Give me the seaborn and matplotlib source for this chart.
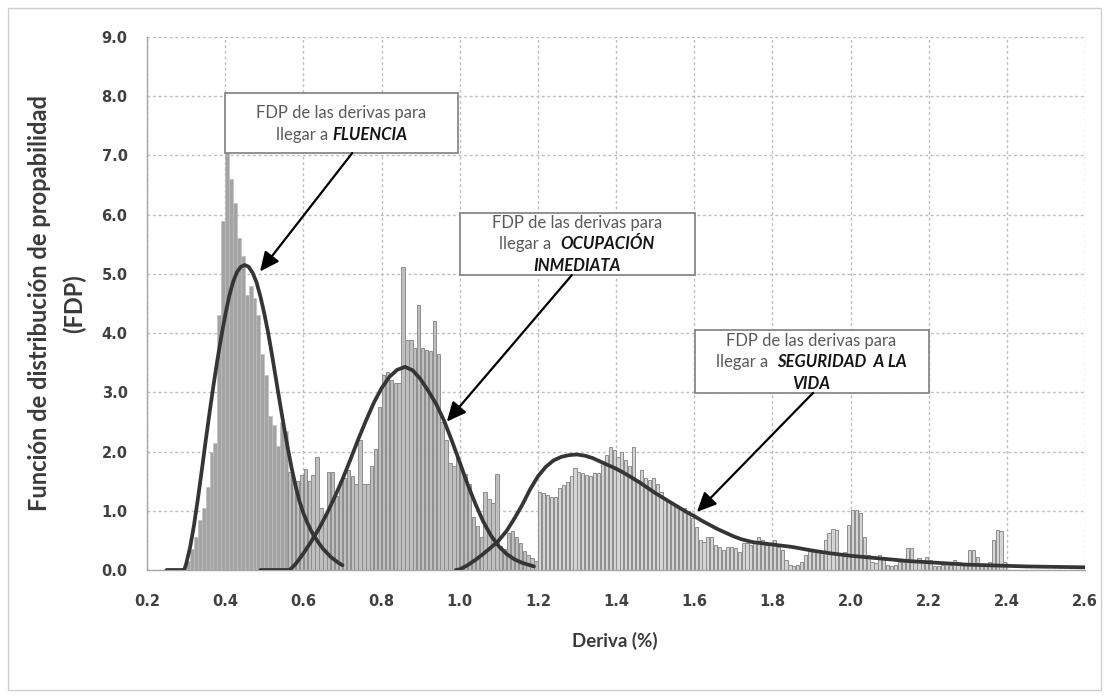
import numpy as np
import pandas as pd
import matplotlib
matplotlib.use("Agg")
import matplotlib.pyplot as plt
from matplotlib.patches import Rectangle
from matplotlib.offsetbox import TextArea, HPacker, VPacker, AnnotationBbox
import seaborn as sns

# ---------------------------------------------------------------------------
# Histogram data (FDP per 0.01 drift bin)
# ---------------------------------------------------------------------------
BIN = 0.01

fluencia_inicio = 0.30
fluencia_fdp = [
    0.15, 0.35, 0.55, 0.85, 1.05, 1.40, 2.00, 2.15, 4.30, 5.90,
    7.05, 6.60, 6.20, 5.60, 5.30, 4.65, 4.80, 4.60, 4.30, 3.65,
    3.30, 2.60, 2.45, 2.10, 2.50, 2.35,
]

ocupacion_inicio = 0.56
ocupacion_fdp = [
    1.65, 1.55, 1.50, 1.60,
    1.70, 1.50, 1.60, 1.90, 1.05, 0.95, 1.65, 1.65, 1.25, 1.50,
    1.55, 1.68, 1.58, 1.45, 2.20, 1.45, 1.45, 1.75, 2.05, 2.75,
    3.30, 3.35, 3.20, 3.15, 3.15, 5.12, 3.88, 3.88, 3.75, 4.48,
    3.75, 3.72, 3.70, 4.20, 3.65, 2.50, 2.20, 1.80, 1.75, 1.90,
    1.70, 1.62, 1.45, 0.90, 0.75, 0.55, 1.32, 1.20, 1.13, 1.62,
    0.40, 0.35, 0.62, 0.65, 0.55, 0.45, 0.32, 0.25, 0.20, 0.15,
]

seguridad_inicio = 1.20
seguridad_fdp = [
    1.32, 1.30, 1.27, 1.24, 1.24, 1.38, 1.44, 1.49, 1.58, 1.72,
    1.66, 1.63, 1.60, 1.58, 1.63, 1.63, 1.80, 1.94, 2.08, 2.03,
    1.91, 2.00, 1.86, 1.75, 2.08, 1.52, 1.69, 1.55, 1.52, 1.55,
    1.46, 1.32, 1.21, 1.15, 1.13, 1.10, 1.04, 1.04, 0.99, 0.87,
    0.73, 0.51, 0.48, 0.56, 0.56, 0.42, 0.39, 0.34, 0.39, 0.39,
    0.37, 0.31, 0.45, 0.45, 0.42, 0.45, 0.56, 0.50, 0.42, 0.45,
    0.51, 0.39, 0.34, 0.17, 0.08, 0.06, 0.08, 0.14, 0.25, 0.34,
    0.34, 0.31, 0.28, 0.51, 0.62, 0.70, 0.68, 0.28, 0.31, 0.76,
    1.01, 1.01, 0.96, 0.56, 0.25, 0.14, 0.11, 0.25, 0.22, 0.08,
    0.06, 0.08, 0.14, 0.14, 0.37, 0.37, 0.17, 0.20, 0.17, 0.22,
    0.17, 0.06, 0.06, 0.08, 0.11, 0.08, 0.17, 0.14, 0.08, 0.08,
    0.34, 0.34, 0.22, 0.08, 0.08, 0.14, 0.51, 0.68, 0.65, 0.14,
]

# ---------------------------------------------------------------------------
# Fitted probability density curves
# ---------------------------------------------------------------------------
curva_fluencia_x = [0.25, 0.295, 0.30, 0.31, 0.32, 0.33, 0.34, 0.35, 0.36, 0.37,
                    0.38, 0.39, 0.40, 0.41, 0.42, 0.43, 0.44, 0.45, 0.46, 0.47,
                    0.48, 0.49, 0.50, 0.51, 0.52, 0.53, 0.54, 0.55, 0.56, 0.57,
                    0.58, 0.59, 0.60, 0.61, 0.62, 0.63, 0.64, 0.65, 0.66, 0.67,
                    0.68, 0.69, 0.70]
curva_fluencia_y = [0.00, 0.00, 0.10, 0.38, 0.75, 1.20, 1.68, 2.18, 2.66, 3.12,
                    3.55, 3.94, 4.30, 4.62, 4.86, 5.03, 5.12, 5.15, 5.12, 5.02,
                    4.86, 4.62, 4.33, 4.00, 3.62, 3.22, 2.82, 2.43, 2.06, 1.72,
                    1.42, 1.16, 0.96, 0.80, 0.66, 0.55, 0.45, 0.36, 0.29, 0.22,
                    0.17, 0.12, 0.08]

curva_ocupacion_x = [0.49, 0.565, 0.58, 0.60, 0.62, 0.64, 0.66, 0.68, 0.70, 0.72,
                     0.74, 0.76, 0.78, 0.80, 0.82, 0.84, 0.86, 0.88, 0.90, 0.92,
                     0.94, 0.96, 0.98, 1.00, 1.02, 1.04, 1.06, 1.08, 1.10, 1.12,
                     1.14, 1.16, 1.18, 1.19]
curva_ocupacion_y = [0.00, 0.00, 0.10, 0.28, 0.48, 0.70, 0.95, 1.23, 1.53, 1.86,
                     2.20, 2.52, 2.82, 3.07, 3.26, 3.38, 3.43, 3.37, 3.22, 3.02,
                     2.80, 2.52, 2.18, 1.82, 1.45, 1.12, 0.82, 0.58, 0.40, 0.27,
                     0.18, 0.12, 0.08, 0.06]

curva_seguridad_x = [0.99, 1.00, 1.02, 1.04, 1.06, 1.08, 1.10, 1.12, 1.14, 1.16,
                     1.18, 1.20, 1.22, 1.24, 1.26, 1.28, 1.30, 1.32, 1.34, 1.36,
                     1.38, 1.40, 1.42, 1.44, 1.46, 1.48, 1.50, 1.52, 1.54, 1.56,
                     1.58, 1.60, 1.62, 1.64, 1.66, 1.68, 1.70, 1.72, 1.75, 1.80,
                     1.85, 1.90, 1.95, 2.00, 2.05, 2.10, 2.15, 2.20, 2.25, 2.30,
                     2.35, 2.40, 2.45, 2.50, 2.55, 2.60]
curva_seguridad_y = [0.00, 0.01, 0.08, 0.17, 0.27, 0.38, 0.50, 0.66, 0.87, 1.10,
                     1.36, 1.58, 1.74, 1.85, 1.91, 1.94, 1.95, 1.93, 1.89, 1.83,
                     1.77, 1.71, 1.64, 1.56, 1.48, 1.39, 1.30, 1.22, 1.14, 1.06,
                     0.98, 0.91, 0.83, 0.76, 0.69, 0.63, 0.57, 0.52, 0.47, 0.43,
                     0.39, 0.33, 0.28, 0.24, 0.21, 0.18, 0.15, 0.13, 0.11, 0.09,
                     0.08, 0.07, 0.06, 0.055, 0.05, 0.045]

x_ticks = [0.2, 0.4, 0.6, 0.8, 1.0, 1.2, 1.4, 1.6, 1.8, 2.0, 2.2, 2.4, 2.6]
y_ticks = [0, 1, 2, 3, 4, 5, 6, 7, 8, 9]

# ---------------------------------------------------------------------------
sns.set_style("white")
plt.rcParams["font.family"] = ["DejaVu Sans"]

fig = plt.figure(figsize=(11.09, 6.98), dpi=100)
ax = fig.add_axes([0.1326, 0.1834, 0.8458, 0.7636])
ax.set_axisbelow(True)


def histograma(inicio, alturas, cara, borde, shrink, lw):
    n = len(alturas)
    bordes = [round(inicio + BIN * i, 2) for i in range(n + 1)]
    tabla = pd.DataFrame({
        "deriva": [b + BIN / 2 for b in bordes[:-1]],
        "fdp": list(alturas),
    })
    sns.histplot(data=tabla, x="deriva", weights="fdp", bins=bordes,
                 stat="count", ax=ax, color=cara, edgecolor=borde,
                 linewidth=lw, shrink=shrink, alpha=1, zorder=2)


histograma(fluencia_inicio, fluencia_fdp, "#a4a4a4", "#bcbcbc", 1.0, 0.4)
histograma(ocupacion_inicio, ocupacion_fdp, "#bfbfbf", "#8e8e8e", 0.85, 0.7)
histograma(seguridad_inicio, seguridad_fdp, "#d4d4d4", "#8e8e8e", 0.8, 0.7)

for cx, cy in [(curva_fluencia_x, curva_fluencia_y),
               (curva_ocupacion_x, curva_ocupacion_y),
               (curva_seguridad_x, curva_seguridad_y)]:
    sns.lineplot(x=cx, y=cy, ax=ax, color="#353535", linewidth=2.7,
                 sort=False, estimator=None, zorder=4,
                 solid_capstyle="round", solid_joinstyle="round")

ax.set_xlim(0.2, 2.6)
ax.set_ylim(0, 9)
ax.set_xticks(x_ticks)
ax.set_yticks(y_ticks)
ax.set_xticklabels([f"{t:.1f}" for t in x_ticks])
ax.set_yticklabels([f"{t:.1f}" for t in y_ticks])
ax.grid(True, color="#bdbdbd", linestyle=(0, (2.0, 2.0)), linewidth=1.0)

for side in ["top", "right"]:
    ax.spines[side].set_visible(False)
for side in ["left", "bottom"]:
    ax.spines[side].set_color("#a6a6a6")
    ax.spines[side].set_linewidth(1.0)

ax.tick_params(axis="y", direction="out", length=6, width=1, color="#a6a6a6",
               labelsize=10.5, labelcolor="#404040", pad=8)
ax.tick_params(axis="x", direction="out", length=5, width=1, color="#a6a6a6",
               labelsize=10.5, labelcolor="#404040", pad=12)
for lbl in ax.get_xticklabels() + ax.get_yticklabels():
    lbl.set_fontweight("bold")

ax.set_ylabel("Función de distribución de propabilidad\n(FDP)",
              fontsize=17, fontweight="bold", family="Lato",
              color="#3a3a3a", linespacing=1.6)
ax.yaxis.label.set_va("center")
ax.yaxis.set_label_coords(-0.0959, 0.5)
ax.set_xlabel("Deriva (%)", fontsize=13.5, fontweight="bold", family="Lato",
              color="#3a3a3a")
ax.xaxis.label.set_va("center")
ax.xaxis.set_label_coords(0.4989, -0.1332)

# ---------------------------------------------------------------------------
# Annotation boxes with arrows
# ---------------------------------------------------------------------------
normal = dict(family="Lato", size=12, color="#5a5a5a")
negrita = dict(family="Lato", size=12, color="#141414",
               weight="bold", style="italic")


def caja(x0, y0, x1, y1, lineas, centro):
    ax.add_patch(Rectangle((x0, y0), x1 - x0, y1 - y0, facecolor="white",
                           edgecolor="#7f7f7f", linewidth=1.2, zorder=5))
    filas = []
    for linea in lineas:
        partes = [TextArea(txt, textprops=(negrita if bold else normal))
                  for txt, bold in linea]
        filas.append(HPacker(children=partes, align="baseline", pad=0, sep=0))
    bloque = VPacker(children=filas, align="center", pad=0, sep=4)
    ab = AnnotationBbox(bloque, centro, xycoords="data", frameon=False,
                        box_alignment=(0.5, 0.5), zorder=6)
    ax.add_artist(ab)


flecha = dict(arrowstyle="-|>,head_length=0.65,head_width=0.3",
              color="black", linewidth=1.6, mutation_scale=18,
              shrinkA=0, shrinkB=0)

caja(0.3996, 7.044, 0.9958, 8.057,
     [[("FDP de las derivas para", False)],
      [("llegar a ", False), ("FLUENCIA", True)]],
     (0.6977, 7.53))
ax.annotate("", xy=(0.489, 5.04), xytext=(0.725, 7.04),
            arrowprops=flecha, zorder=7)

caja(1.0009, 4.983, 1.6022, 6.030,
     [[("FDP de las derivas para", False)],
      [("llegar a  ", False), ("OCUPACIÓN", True)],
      [("INMEDIATA", True)]],
     (1.30, 5.50))
ax.annotate("", xy=(0.967, 2.505), xytext=(1.287, 4.98),
            arrowprops=flecha, zorder=7)

caja(1.6022, 2.990, 2.201, 4.054,
     [[("FDP de las derivas para", False)],
      [("llegar a  ", False), ("SEGURIDAD  A LA", True)],
      [("VIDA", True)]],
     (1.90, 3.51))
ax.annotate("", xy=(1.607, 0.98), xytext=(1.904, 2.99),
            arrowprops=flecha, zorder=7)

# chart-area border
fig.patches.append(Rectangle((8 / 1109, 8 / 698), 1093 / 1109, 682 / 698,
                             transform=fig.transFigure, fill=False,
                             edgecolor="#d0d0d0", linewidth=1.0))

fig.savefig("out.png", dpi=100, facecolor="white")
